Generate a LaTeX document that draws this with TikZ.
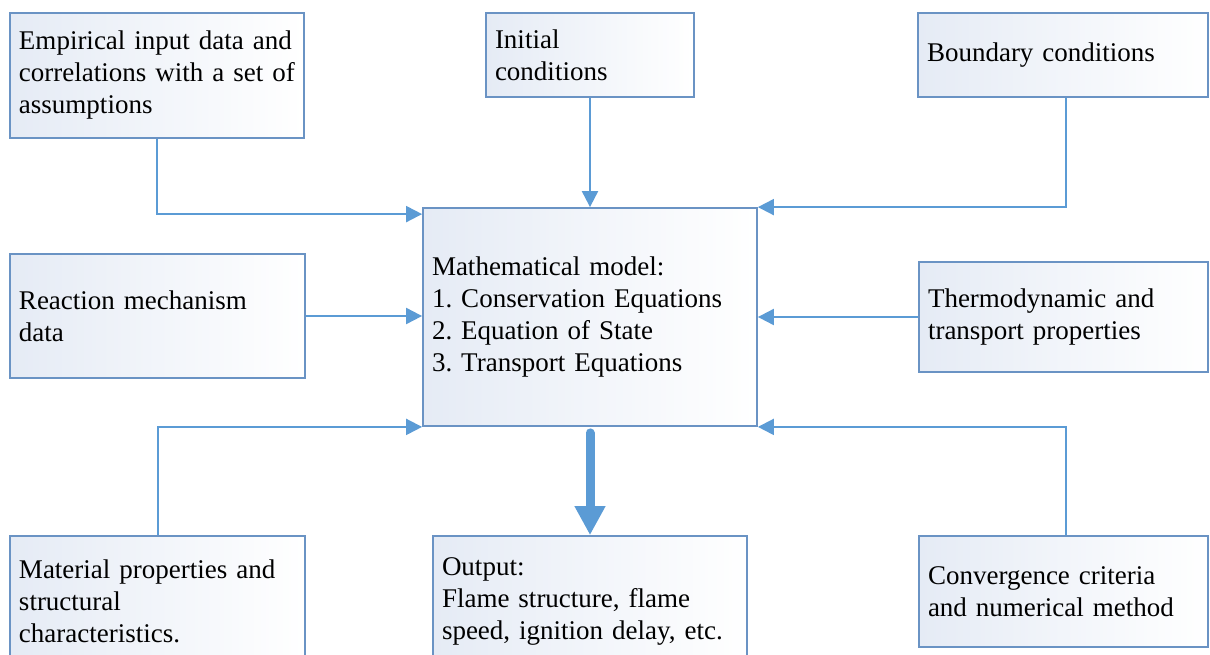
\documentclass[tikz,border=0pt]{standalone}
\usepackage{fontspec}
\setmainfont{Liberation Serif}
\usepackage{xcolor}
\usetikzlibrary{arrows.meta,calc}

\definecolor{boxline}{HTML}{6A93C4}
\definecolor{boxfill}{HTML}{E5EBF5}
\definecolor{arrowblue}{HTML}{5B9BD5}

\begin{document}
\begin{tikzpicture}[
        x=1pt, y=-1pt,
        box/.style={draw=boxline, line width=1.8pt, left color=boxfill, right color=white,
            align=left, inner xsep=9pt, inner ysep=0pt,
            font=\fontsize{27}{32}\selectfont\frenchspacing},
        arrow/.style={draw=arrowblue, line width=2pt, -{Triangle[length=16pt, width=16pt]}},
        bigarrow/.style={draw=arrowblue, line width=9pt, line cap=round, -{Triangle[length=29pt, width=29pt]}}
    ]
        \clip (0,0) rectangle (1210,654);
        \fill[white] (0,0) rectangle (1210,654);

        % Top row boxes
        \node[box, text width=276pt, minimum height=125pt] (empirical) at (157,75.5)
            {Empirical input data and\\correlations with a set of\\assumptions};
        \node[box, text width=190pt, minimum height=84pt] (initial) at (590,55)
            {Initial\\conditions};
        \node[box, text width=272pt, minimum height=84pt] (boundary) at (1063,55)
            {Boundary conditions};

        % Middle row boxes
        \node[box, text width=277pt, minimum height=124pt] (reaction) at (157.5,316)
            {Reaction mechanism\\data};
        \node[box, text width=316pt, minimum height=218pt] (model) at (590,317)
            {Mathematical model:\\1. Conservation Equations\\2. Equation of State\\3. Transport Equations};
        \node[box, text width=271pt, minimum height=110pt] (thermo) at (1063.5,317)
            {Thermodynamic and\\transport properties};

        % Bottom row boxes
        \node[box, text width=277pt, minimum height=130pt] (material) at (157.5,601)
            {Material properties and\\structural\\characteristics.};
        \node[box, text width=296pt, minimum height=130pt] (output) at (590,601)
            {Output:\\Flame structure, flame\\speed, ignition delay, etc.};
        \node[box, text width=271pt, minimum height=111pt] (convergence) at (1063.5,591.5)
            {Convergence criteria\\and numerical method};

        % Arrows into the model
        \draw[arrow] (empirical.south) |- ([yshift=-7pt]model.north west);
        \draw[arrow] (initial.south) -- (model.north);
        \draw[arrow] ([xshift=3pt]boundary.south) |- (model.north east);
        \draw[arrow] (reaction.east) -- (reaction.east -| model.west);
        \draw[arrow] (thermo.west) -- (thermo.west -| model.east);
        \draw[arrow] (material.north) |- (model.south west);
        \draw[arrow] ([xshift=2pt]convergence.north) |- (model.south east);

        % Output arrow
        \draw[bigarrow] ([yshift=-6pt]model.south) -- (output.north);
    \end{tikzpicture}
\end{document}
